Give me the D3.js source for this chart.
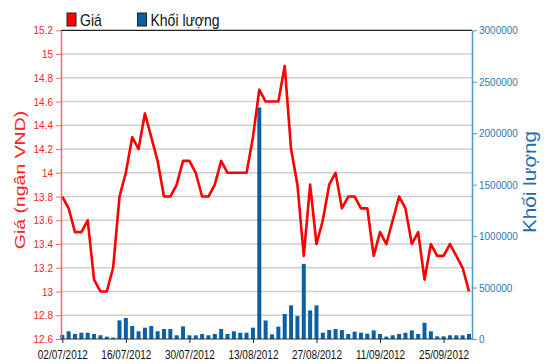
<!DOCTYPE html>
<html>
<head>
<meta charset="utf-8">
<script src="https://cdn.jsdelivr.net/npm/d3@7"></script>
<style>
  body { margin: 0; background: #fff; }
  svg { display: block; font-family: Arial, "Liberation Sans", sans-serif; }
</style>
</head>
<body>
<svg id="chart" width="550" height="364"></svg>
<script>
// one point per trading day, 02/07/2012 .. 01/10/2012
var tickIndex = [0, 10, 20, 30, 40, 50, 60];
var tickLabels = ["02/07/2012", "16/07/2012", "30/07/2012", "13/08/2012", "27/08/2012", "11/09/2012", "25/09/2012"];

var price = [13.8, 13.7, 13.5, 13.5, 13.6, 13.1, 13.0, 13.0, 13.2, 13.8,
             14.0, 14.3, 14.2, 14.5, 14.3, 14.1, 13.8, 13.8, 13.9, 14.1,
             14.1, 14.0, 13.8, 13.8, 13.9, 14.1, 14.0, 14.0, 14.0, 14.0,
             14.3, 14.7, 14.6, 14.6, 14.6, 14.9, 14.2, 13.9, 13.3, 13.9,
             13.4, 13.6, 13.9, 14.0, 13.7, 13.8, 13.8, 13.7, 13.7, 13.3,
             13.5, 13.4, 13.6, 13.8, 13.7, 13.4, 13.5, 13.1, 13.4, 13.3,
             13.3, 13.4, 13.3, 13.2, 13.0];

var volume = [40000, 75000, 49000, 61000, 61000, 49000, 36000, 23000, 13000, 181000,
              204000, 126000, 75000, 110000, 126000, 75000, 97000, 97000, 36000, 123000,
              36000, 36000, 49000, 36000, 49000, 97000, 49000, 75000, 61000, 61000,
              110000, 2250000, 180000, 45000, 120000, 243000, 327000, 223000, 730000, 278000,
              327000, 61000, 87000, 97000, 87000, 48000, 71000, 61000, 52000, 84000,
              49000, 23000, 36000, 49000, 61000, 84000, 49000, 158000, 75000, 26000,
              26000, 36000, 36000, 36000, 49000];

var priceTicks = [12.6, 12.8, 13, 13.2, 13.4, 13.6, 13.8, 14, 14.2, 14.4, 14.6, 14.8, 15, 15.2];
var volumeTicks = [0, 500000, 1000000, 1500000, 2000000, 2500000, 3000000];

var svg = d3.select("#chart");
var plotLeft = 61, plotRight = 472, plotTop = 30.3, plotBottom = 339;

var x = d3.scaleLinear().domain([0, price.length - 1]).range([62.3, 469]);
var yPrice = d3.scaleLinear().domain([12.6, 15.2]).range([plotBottom, plotTop]);
var yVol = d3.scaleLinear().domain([0, 3000000]).range([plotBottom, plotTop]);

// grid
svg.append("g").selectAll("line")
  .data(priceTicks.slice(1, -1))
  .enter().append("line")
  .attr("x1", plotLeft).attr("x2", plotRight)
  .attr("y1", function(d) { return yPrice(d); })
  .attr("y2", function(d) { return yPrice(d); })
  .attr("stroke", "#cfcfcf").attr("stroke-width", 1.5);

svg.append("line")
  .attr("x1", plotLeft).attr("x2", plotRight)
  .attr("y1", plotTop).attr("y2", plotTop)
  .attr("stroke", "#222").attr("stroke-width", 1.2);

// volume bars
svg.append("g").selectAll("rect")
  .data(volume)
  .enter().append("rect")
  .attr("x", function(d, i) { return x(i) - 2; })
  .attr("width", 4)
  .attr("y", function(d) { return yVol(d); })
  .attr("height", function(d) { return plotBottom - yVol(d); })
  .attr("fill", "#0b5fa5");

// price line
var line = d3.line()
  .x(function(d, i) { return x(i); })
  .y(function(d) { return yPrice(d); });

svg.append("path")
  .datum(price)
  .attr("d", line)
  .attr("fill", "none")
  .attr("stroke", "#ff0000")
  .attr("stroke-width", 2.6)
  .attr("stroke-linejoin", "round");

// left axis
var gl = svg.append("g")
  .attr("transform", "translate(" + plotLeft + ",0)")
  .call(d3.axisLeft(yPrice).tickValues(priceTicks).tickSize(5).tickSizeOuter(0)
    .tickFormat(function(d) { return String(+d.toFixed(1)); }));
gl.select(".domain").attr("stroke", "#ff6a6a").attr("stroke-width", 1.5);
gl.selectAll(".tick line").attr("stroke", "#ff6a6a");
gl.selectAll(".tick text")
  .attr("x", -8)
  .attr("fill", "#ff2020")
  .style("font-size", "10px")
  .attr("transform", "scale(1,1.15)");

// right axis
var gr = svg.append("g")
  .attr("transform", "translate(" + plotRight + ",0)")
  .call(d3.axisRight(yVol).tickValues(volumeTicks).tickSize(5).tickSizeOuter(0)
    .tickFormat(d3.format("d")));
gr.select(".domain").attr("stroke", "#4d9bd1").attr("stroke-width", 1.5);
gr.selectAll(".tick line").attr("stroke", "#4d9bd1");
gr.selectAll(".tick text")
  .attr("x", 7)
  .attr("fill", "#2b79b9")
  .style("font-size", "10px")
  .attr("transform", "scale(1,1.1)");

// bottom axis
svg.append("line")
  .attr("x1", plotLeft).attr("x2", plotRight)
  .attr("y1", plotBottom).attr("y2", plotBottom)
  .attr("stroke", "#333").attr("stroke-width", 1.2);

var gb = svg.append("g")
  .attr("transform", "translate(0," + plotBottom + ")")
  .call(d3.axisBottom(x).tickValues(tickIndex).tickSize(4)
    .tickFormat(function(d, i) { return tickLabels[i]; }));
gb.select(".domain").remove();
gb.selectAll(".tick line").attr("stroke", "#222");
gb.selectAll(".tick text")
  .attr("y", 8)
  .attr("fill", "#111")
  .style("font-size", "10px")
  .attr("transform", "scale(1,1.3)");

// axis titles
svg.append("text")
  .attr("transform", "translate(25,180) rotate(-90) scale(1.39,1)")
  .attr("text-anchor", "middle")
  .attr("fill", "#ff2020")
  .style("font-size", "14px")
  .text("Giá (ngân VND)");

svg.append("text")
  .attr("transform", "translate(536,182) rotate(-90) scale(1.09,1)")
  .attr("text-anchor", "middle")
  .attr("fill", "#1f6fb0")
  .style("font-size", "19px")
  .text("Khối lượng");

// legend
var legend = [{ name: "Giá", color: "#ff0000", x: 67 }, { name: "Khối lượng", color: "#0b5fa5", x: 137.5 }];
var lg = svg.append("g").selectAll("g")
  .data(legend)
  .enter().append("g")
  .attr("transform", function(d) { return "translate(" + d.x + ",0)"; });
lg.append("rect")
  .attr("x", 0).attr("y", 13)
  .attr("width", 9).attr("height", 13)
  .attr("fill", function(d) { return d.color; })
  .attr("stroke", "#222").attr("stroke-width", 1);
lg.append("text")
  .attr("transform", "translate(13,26) scale(1,1.15)")
  .attr("fill", "#111")
  .style("font-size", "14px")
  .text(function(d) { return d.name; });
</script>
</body>
</html>
